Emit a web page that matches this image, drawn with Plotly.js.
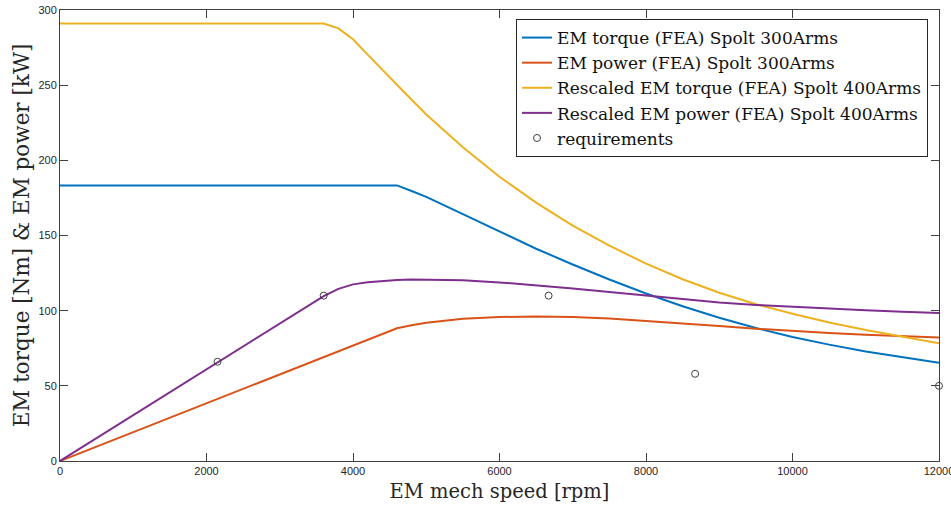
<!DOCTYPE html>
<html>
<head>
<meta charset="utf-8">
<script src="https://cdn.plot.ly/plotly-3.0.1.min.js"></script>
<style>
  html, body { margin: 0; padding: 0; background: #fff; }
  #chart { width: 951px; height: 507px; }
</style>
</head>
<body>
<div id="chart"></div>
<script>
// Speed samples [rpm]
const speed300 = [0, 4600, 4800, 5000, 5500, 6000, 6500, 7000, 7500, 8000, 8500, 9000, 9500, 10000, 10500, 11000, 11500, 12000];
// EM torque [Nm] and EM power [kW], FEA, Spolt 300Arms
const torque300 = [183.3, 183.3, 179.6, 175.7, 164.2, 152.5, 141.2, 130.7, 120.7, 111.4, 102.9, 95.3, 88.5, 82.5, 77.4, 72.9, 68.9, 65.4];
const power300 = [0, 88.3, 90.3, 92.0, 94.6, 95.8, 96.1, 95.8, 94.8, 93.3, 91.6, 89.8, 88.0, 86.4, 85.1, 84.0, 83.0, 82.2];

// Speed samples [rpm] for the rescaled 400Arms curves
const speed400 = [0, 3600, 3800, 4000, 4200, 4400, 4600, 4800, 5000, 5500, 6000, 6500, 7000, 7500, 8000, 8500, 9000, 9500, 10000, 10500, 11000, 11500, 12000];
const torque400 = [291.0, 291.0, 287.8, 280.5, 270.3, 260.2, 249.9, 240.3, 230.5, 208.7, 189.1, 171.9, 156.6, 143.2, 131.3, 120.9, 111.9, 104.3, 97.9, 92.1, 87.1, 82.5, 78.3];
const power400 = [0, 109.7, 114.5, 117.5, 118.9, 119.9, 120.4, 120.8, 120.7, 120.2, 118.8, 117.0, 114.8, 112.5, 110.0, 107.6, 105.5, 103.8, 102.5, 101.3, 100.3, 99.3, 98.4];

// Requirement points
const reqSpeed = [2150, 3600, 6670, 8670, 12000];
const reqValue = [66, 110, 110, 58, 50];

const xTicks = [0, 2000, 4000, 6000, 8000, 10000, 12000];
const yTicks = [0, 50, 100, 150, 200, 250, 300];

const serif = '"DejaVu Serif", "Liberation Serif", serif';
const sans = '"Liberation Sans", Arial, sans-serif';
const axisColor = '#404040';

const traces = [
  { x: speed300, y: torque300, name: 'EM torque (FEA) Spolt 300Arms', mode: 'lines', line: { color: '#0072BD', width: 2 } },
  { x: speed300, y: power300, name: 'EM power (FEA) Spolt 300Arms', mode: 'lines', line: { color: '#D95319', width: 2 } },
  { x: speed400, y: torque400, name: 'Rescaled EM torque (FEA) Spolt 400Arms', mode: 'lines', line: { color: '#EDB120', width: 2 } },
  { x: speed400, y: power400, name: 'Rescaled EM power (FEA) Spolt 400Arms', mode: 'lines', line: { color: '#7E2F8E', width: 2 } },
  { x: reqSpeed, y: reqValue, name: 'requirements', mode: 'markers', cliponaxis: false,
    marker: { symbol: 'circle-open', size: 7, color: '#404040', line: { width: 1, color: '#404040' } } }
];

const axisBase = {
  showgrid: false, zeroline: false, showline: true, linecolor: axisColor, linewidth: 1,
  mirror: 'ticks', ticks: 'inside', ticklen: 8, tickwidth: 1, tickcolor: axisColor,
  tickfont: { family: sans, size: 11, color: '#262626' },
  ticklabeloverflow: 'allow'
};

const layout = {
  width: 951, height: 507,
  margin: { l: 60, r: 12, t: 10, b: 46 },
  paper_bgcolor: '#fff', plot_bgcolor: '#fff',
  showlegend: true,
  xaxis: Object.assign({}, axisBase, {
    range: [0, 12000], tickvals: xTicks, ticktext: xTicks.map(String),
    title: { text: 'EM mech speed [rpm]', font: { family: serif, size: 19.5, color: '#262626' }, standoff: 8 }
  }),
  yaxis: Object.assign({}, axisBase, {
    range: [0, 300], tickvals: yTicks, ticktext: yTicks.map(String),
    title: { text: 'EM torque [Nm] & EM power [kW]', font: { family: serif, size: 21.5, color: '#262626' }, standoff: 2 }
  }),
  legend: {
    x: 0.9875, y: 0.98, xanchor: 'right', yanchor: 'top',
    bgcolor: '#fff', bordercolor: '#262626', borderwidth: 1,
    font: { family: serif, size: 17, color: '#111' },
    tracegroupgap: 0
  }
};

Plotly.newPlot('chart', traces, layout, { displayModeBar: false, staticPlot: true });
</script>
</body>
</html>
